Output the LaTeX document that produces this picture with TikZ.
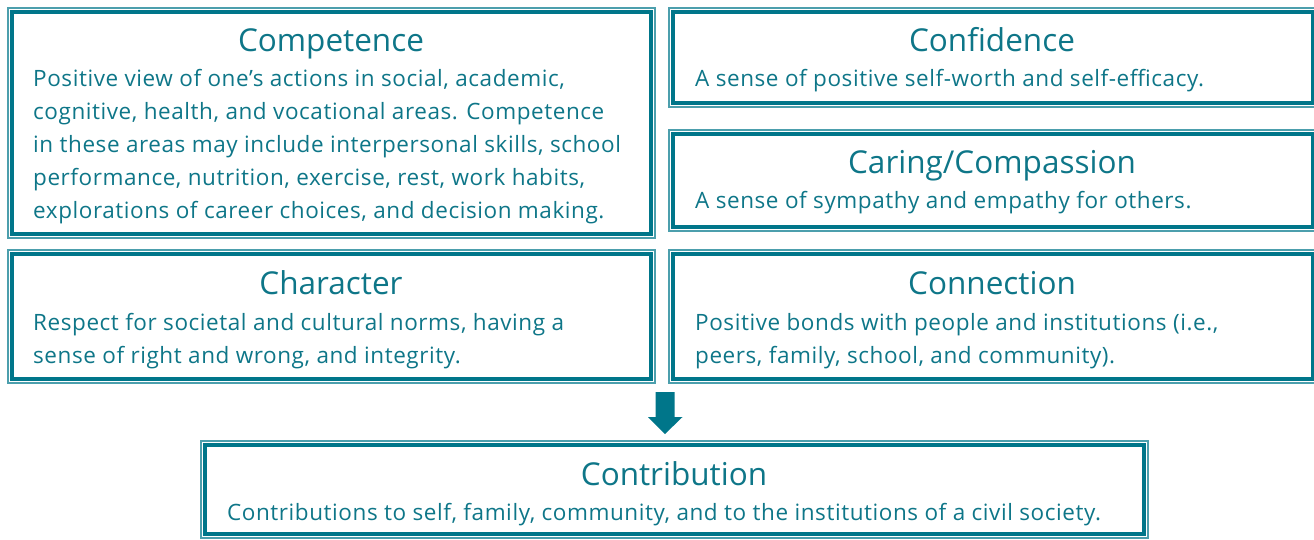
\documentclass[tikz,border=0pt]{standalone}
\usepackage{fontspec}
\setmainfont{Open Sans}[LetterSpace=2.5]
\newfontfamily\titlefont{Open Sans}
\definecolor{teal}{RGB}{0,118,138}
\definecolor{tealtxt}{RGB}{14,118,136}
\tikzset{
  x=1pt, y=-1pt,
  outerline/.style={draw=teal!70, line width=1.1pt},
  innerline/.style={draw=teal, line width=3.6pt},
  ttl/.style={anchor=base, inner sep=0pt, text=tealtxt, font=\titlefont\fontsize{31.5}{31.5}\selectfont},
  bodytxt/.style={anchor=base west, inner sep=0pt, text=tealtxt, align=left, font=\fontsize{22.5}{33}\selectfont},
}
\newcommand{\dbox}[5]{% name, x1,y1,x2,y2
  \draw[outerline] (#2,#3) rectangle (#4,#5);
  \draw[innerline] (#2+4,#3+4) rectangle (#4-4,#5-4);
  \coordinate (#1-nw) at (#2,#3);
  \coordinate (#1-se) at (#4,#5);
}
\begin{document}
\begin{tikzpicture}
\useasboundingbox (0,0) rectangle (1314,539);
\dbox{comp}{8}{8}{655}{238}
\dbox{conf}{669}{8}{1317}{107}
\dbox{car}{669}{130}{1317}{231}
\dbox{char}{8}{250}{655}{383}
\dbox{conn}{669}{250}{1317}{383}
\dbox{contr}{201}{441}{1148}{538}

\node[ttl] (compT) at (331,51) {Competence};
\node[bodytxt] (compB) at (33,218) {Positive view of one’s actions in social, academic,\\cognitive, health, and vocational areas. Competence\\in these areas may include interpersonal skills, school\\performance, nutrition, exercise, rest, work habits,\\explorations of career choices, and decision making.};

\node[ttl] (confT) at (992,51) {Confidence};
\node[bodytxt] (confB) at (695,86) {A sense of positive self-worth and self-efficacy.};

\node[ttl] (carT) at (992,173) {Caring/Compassion};
\node[bodytxt] (carB) at (695,208) {A sense of sympathy and empathy for others.};

\node[ttl] (charT) at (331,294) {Character};
\node[bodytxt] (charB) at (33,363) {Respect for societal and cultural norms, having a\\sense of right and wrong, and integrity.};

\node[ttl] (connT) at (992,294) {Connection};
\node[bodytxt] (connB) at (695,363) {Positive bonds with people and institutions (i.e.,\\peers, family, school, and community).};

\node[ttl] (contrT) at (674,485) {Contribution};
\node[bodytxt] (contrB) at (227,520) {Contributions to self, family, community, and to the institutions of a civil society.};

\coordinate (arrTop) at (665,392);
\fill[teal] (arrTop) ++(-9.5,0) -- ++(19,0) -- ++(0,25) -- ++(8,0) -- (665,434) -- (648,417) -- (655.5,417) -- cycle;
\end{tikzpicture}
\end{document}
